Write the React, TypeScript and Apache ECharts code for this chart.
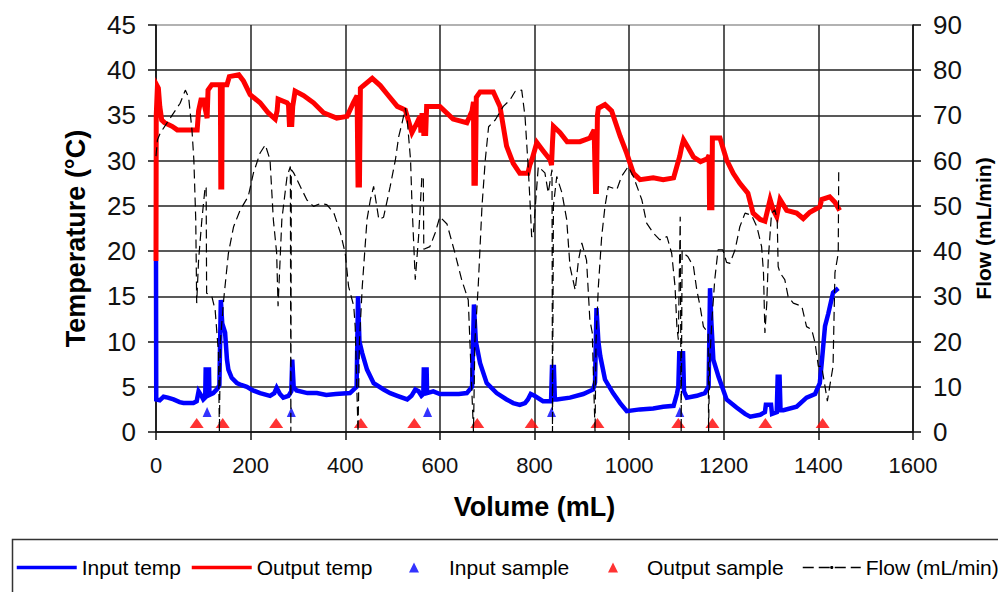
import React, { useEffect, useRef } from "react";
import * as echarts from "echarts";

const FONT = '"Liberation Sans", Arial, Helvetica, sans-serif';

const xTicks = [0, 200, 400, 600, 800, 1000, 1200, 1400, 1600];

// Input temp (°C) vs volume (mL)
const inputTemp: number[][] = [
  [0, 18.9], [0.5, 3.6], [8, 3.5], [16, 3.9], [25, 3.8], [37, 3.6], [50, 3.3], [58, 3.2], [79, 3.2], [86, 3.4],
  [90, 4.5], [96, 4.0], [100, 3.6], [104, 3.8], [105, 6.9], [112, 6.9], [113, 4.1], [121, 4.3], [130, 4.8], [134, 5.2],
  [137, 14.6], [140, 12], [146, 11.0], [150, 8], [153, 6.9], [160, 6.0], [171, 5.4], [180, 5.2], [192, 5.0], [205, 4.6],
  [220, 4.3], [241, 4.0], [250, 4.3], [255, 4.9], [262, 4.2], [269, 3.8], [280, 4.0], [286, 4.5], [288, 8.0], [291, 5.0],
  [297, 4.6], [320, 4.3], [340, 4.3], [360, 4.1], [380, 4.2], [410, 4.3], [424, 5.0], [427, 15.0], [430, 10], [436, 8.7],
  [446, 6.9], [460, 5.4], [481, 4.7], [495, 4.3], [510, 4.0], [531, 3.6], [540, 4.0], [548, 4.7], [555, 4.5], [561, 4.0],
  [565, 4.2], [566, 6.9], [572, 6.9], [573, 4.3], [586, 4.5], [600, 4.2], [622, 4.2], [640, 4.2], [657, 4.3], [668, 5.0],
  [672, 14.1], [676, 10], [685, 7.6], [699, 5.4], [720, 4.3], [741, 3.6], [755, 3.2], [769, 3.0], [780, 3.2], [786, 3.6],
  [792, 4.2], [800, 4.0], [818, 3.4], [835, 3.4], [837, 7.2], [841, 7.2], [843, 3.6], [847, 3.6], [875, 3.8], [903, 4.2],
  [924, 4.7], [928, 5.5], [931, 13.7], [935, 10], [939, 8.4], [949, 5.8], [966, 4.3], [981, 3.2], [995, 2.3], [1023, 2.5],
  [1051, 2.6], [1072, 2.8], [1094, 2.9], [1101, 4.2], [1104, 5], [1106, 8.7], [1114, 8.7], [1116, 4.5], [1122, 3.8], [1143, 4.0],
  [1160, 4.3], [1168, 5], [1171, 15.9], [1174, 12], [1178, 8.0], [1189, 6.1], [1206, 3.6], [1227, 2.7], [1245, 2.0], [1256, 1.7],
  [1277, 1.9], [1287, 2.2], [1289, 3.0], [1300, 3.0], [1302, 2.0], [1312, 2.2], [1314, 6.1], [1318, 6.1], [1320, 2.4], [1326, 2.4],
  [1354, 2.8], [1375, 3.8], [1393, 4.2], [1403, 5.4], [1407, 7.6], [1414, 11.7], [1421, 13.1], [1431, 15.4], [1442, 15.9],
];

// Output temp (°C) vs volume (mL)
const outputTemp: number[][] = [
  [0, 18.9], [0.5, 35], [3, 38.2], [5, 38], [8, 36], [12, 34.5], [18, 34.2], [34, 33.8], [45, 33.4], [87, 33.4],
  [90, 35.5], [95, 36.7], [100, 36.7], [105, 35.5], [108, 34.7], [110, 37.8], [118, 38.4], [136, 38.4], [137, 27.1], [139, 27.1],
  [140, 38.4], [150, 38.4], [155, 39.3], [175, 39.5], [185, 38.8], [199, 37.3], [220, 36.4], [237, 35.3], [252, 34.6], [256, 35.5],
  [258, 36.8], [277, 36.4], [280, 36.2], [282, 34.0], [287, 34.0], [289, 36.0], [294, 37.7], [312, 37.2], [333, 36.4], [354, 35.3],
  [382, 34.7], [404, 34.9], [417, 36.4], [425, 37.2], [427, 27.3], [430, 27.3], [432, 38.0], [436, 38.2], [457, 39.1], [474, 38.3],
  [488, 37.4], [510, 36.0], [527, 35.6], [541, 33.1], [550, 34.0], [558, 34.9], [560, 33.1], [562, 35.0], [565, 35.0], [566, 33.0],
  [570, 33.0], [572, 36.0], [579, 36.0], [600, 36.0], [628, 34.6], [657, 34.2], [668, 35.5], [671, 36.5], [672, 27.5], [675, 27.5],
  [677, 37.0], [685, 37.6], [713, 37.6], [727, 36.0], [741, 31.6], [755, 29.7], [769, 28.6], [786, 28.6], [790, 29.5], [795, 30.2],
  [805, 32.0], [818, 31.1], [833, 30.1], [836, 29.5], [838, 32], [840, 33.8], [854, 33.1], [869, 32.1], [896, 32.1], [917, 32.5],
  [926, 33.4], [929, 26.6], [931, 26.6], [933, 35.0], [935, 35.8], [949, 36.2], [963, 35.5], [981, 32.7], [995, 30.8], [1009, 28.6],
  [1023, 27.9], [1051, 28.1], [1072, 27.9], [1094, 28.1], [1101, 29.4], [1107, 30.5], [1111, 31.5], [1115, 32.3], [1124, 31.5], [1136, 30.4],
  [1151, 29.9], [1165, 30.2], [1169, 30.6], [1170, 24.8], [1175, 24.8], [1176, 32.5], [1192, 32.5], [1206, 30.1], [1220, 28.6], [1234, 27.5],
  [1251, 26.4], [1262, 24.2], [1277, 23.5], [1287, 23.3], [1298, 25.7], [1305, 24.5], [1312, 23.8], [1319, 25.7], [1333, 24.5], [1354, 24.2],
  [1368, 23.6], [1382, 24.3], [1403, 24.9], [1407, 25.7], [1424, 26.0], [1435, 25.4], [1445, 24.5],
];

// Flow (mL/min) vs volume (mL), right axis
const flow: number[][] = [
  [0, 61], [3, 64.6], [9, 66.1], [23, 68.3], [37, 70.5], [51, 72.7], [62, 75.6], [69, 74], [76, 66.8], [80, 60.2],
  [84, 47], [86, 28.5], [90, 38], [97, 47], [104, 54.3], [106, 54], [107, 30.7], [118, 30.0], [125, 27], [132, 17.5],
  [134, 0], [136, 20], [143, 29.2], [153, 39.5], [164, 45.4], [178, 49.1], [195, 52.1], [206, 57.3], [220, 61.7], [231, 63.5],
  [241, 60.2], [248, 47], [255, 39.6], [258, 27.8], [266, 47], [277, 56.5], [284, 58.7], [285, 0], [286, 58], [291, 57.3],
  [305, 54.3], [319, 51.3], [333, 49.9], [347, 50.5], [361, 50.3], [376, 48.4], [390, 44], [400, 39.5], [407, 32.2], [418, 27.8],
  [421, 23.3], [427, 0], [430, 20], [436, 32.2], [446, 47], [453, 51.3], [460, 54.3], [471, 47], [481, 47.5], [495, 54.3],
  [506, 60.2], [513, 65.3], [520, 68.3], [527, 71.6], [531, 69], [538, 60.2], [541, 50.6], [548, 33.7], [555, 43.2], [562, 56.5],
  [565, 56.5], [566, 40.4], [579, 41.0], [590, 44], [600, 47.6], [615, 46], [632, 39.5], [646, 33.7], [660, 29.2], [671, 0],
  [674, 20], [681, 32.2], [689, 49.9], [696, 60.2], [703, 67.5], [717, 69], [734, 72], [748, 73.4], [759, 75.3], [773, 75.6],
  [780, 69.7], [787, 58], [791, 49.9], [794, 43.2], [797, 43.2], [808, 58.7], [822, 57.3], [829, 52.9], [837, 58], [838, 0],
  [840, 50], [847, 56.5], [858, 52.9], [868, 47], [875, 36.6], [886, 31.4], [893, 38], [900, 41.8], [910, 38], [917, 24.8],
  [922, 22], [928, 0], [930, 20], [935, 32.2], [942, 43.2], [949, 49.9], [956, 54.3], [974, 53.6], [984, 56.5], [998, 58.7],
  [1009, 56.5], [1027, 51.3], [1037, 46.2], [1051, 44], [1065, 42.5], [1080, 43.2], [1090, 39.5], [1097, 32.2], [1101, 23.3], [1104, 20.4],
  [1108, 47.6], [1110, 0], [1112, 40], [1115, 39.5], [1124, 38.8], [1136, 36.6], [1143, 31.4], [1150, 27.8], [1157, 23.3], [1167, 22],
  [1168, 0], [1170, 15], [1175, 24.8], [1181, 33.7], [1188, 40.3], [1198, 40.3], [1206, 37.5], [1213, 37.3], [1224, 40.3], [1234, 45.4],
  [1245, 48.4], [1259, 47.9], [1270, 45.4], [1280, 41], [1284, 35.2], [1287, 21.9], [1291, 28.5], [1294, 38], [1301, 48.4], [1308, 49.1],
  [1313, 47], [1315, 36.6], [1319, 35.2], [1329, 33.7], [1336, 30], [1347, 28.5], [1365, 27.8], [1375, 23.3], [1386, 22.6], [1393, 19.7],
  [1400, 14.5], [1407, 14.5], [1414, 10.1], [1419, 6.8], [1424, 10.1], [1431, 14.5], [1435, 35.2], [1442, 39.5], [1443, 58],
];

// Sample points: [volume (mL), marker level (°C)]
const inputSamples: number[][] = [
  [108, 2.2], [286, 2.2], [574, 2.2], [836, 2.2], [1107, 2.2],
];
const outputSamples: number[][] = [
  [86, 1.0], [141, 1.0], [254, 1.0], [433, 1.0], [546, 1.0], [679, 1.0],
  [794, 1.0], [933, 1.0], [1104, 1.0], [1176, 1.0], [1288, 1.0], [1409, 1.0],
];

const legendText = { fontSize: 21, color: "#000", fontFamily: FONT };
const legendCommon = {
  orient: "horizontal" as const,
  padding: 0,
  itemGap: 0,
  selectedMode: false,
  top: 557,
};

export default function App() {
  const ref = useRef<HTMLDivElement>(null);

  useEffect(() => {
    if (!ref.current) return;
    const chart = echarts.init(ref.current, undefined, { renderer: "svg" });
    const axisLineStyle = { color: "#111", width: 1.5 };
    const splitColors = ["#222", "#222", "#222", "#222", "#222", "#222", "#222", "#222", "#222", "#999"];
    chart.setOption({
      animation: false,
      backgroundColor: "#fff",
      grid: {
        left: 156,
        right: 85,
        top: 25,
        bottom: 160,
        containLabel: false,
        outerBoundsMode: "none",
      },
      xAxis: {
        type: "value",
        min: 0,
        max: 1600,
        interval: 200,
        name: "Volume (mL)",
        nameLocation: "middle",
        nameGap: 61,
        nameTextStyle: { fontSize: 27, fontWeight: "bold", color: "#000", fontFamily: FONT },
        axisLine: { show: true, lineStyle: axisLineStyle },
        axisTick: { show: true, length: 8, lineStyle: axisLineStyle },
        axisLabel: {
          fontSize: 22,
          color: "#111",
          fontFamily: FONT,
          margin: 22,
          formatter: (v: number) => (xTicks.includes(v) ? String(v) : ""),
        },
        splitLine: { show: true, lineStyle: { color: "#222", width: 1.5 } },
      },
      yAxis: [
        {
          type: "value",
          min: 0,
          max: 45,
          interval: 5,
          position: "left",
          name: "Temperature (°C)",
          nameLocation: "middle",
          nameGap: 67,
          nameTextStyle: {
            fontSize: 27,
            fontWeight: "bold",
            color: "#000",
            fontFamily: FONT,
            padding: [0, 20, 0, 0],
          },
          axisLine: { show: true, lineStyle: axisLineStyle },
          axisTick: { show: true, length: 8, lineStyle: axisLineStyle },
          axisLabel: { fontSize: 26, color: "#111", fontFamily: FONT, margin: 20 },
          splitLine: { show: true, lineStyle: { color: splitColors, width: 1.5 } },
        },
        {
          type: "value",
          min: 0,
          max: 90,
          interval: 10,
          position: "right",
          name: "Flow (mL/min)",
          nameLocation: "middle",
          nameGap: 60,
          nameTextStyle: { fontSize: 21, fontWeight: "bold", color: "#000", fontFamily: FONT },
          axisLine: { show: true, lineStyle: axisLineStyle },
          axisTick: { show: true, length: 8, lineStyle: axisLineStyle },
          axisLabel: { fontSize: 26, color: "#111", fontFamily: FONT, margin: 20 },
          splitLine: { show: false },
        },
      ],
      legend: [
        {
          ...legendCommon, data: ["Input temp"], left: 15, itemWidth: 60, itemHeight: 4,
          lineStyle: { width: 3.5 }, textStyle: legendText,
        },
        {
          ...legendCommon, data: ["Output temp"], left: 190, itemWidth: 60, itemHeight: 4,
          lineStyle: { width: 3.5 }, textStyle: legendText,
        },
        {
          ...legendCommon, data: ["Input sample"], left: 409, itemWidth: 10, itemHeight: 10,
          textStyle: { ...legendText, padding: [0, 0, 0, 25] },
        },
        {
          ...legendCommon, data: ["Output sample"], left: 608, itemWidth: 10, itemHeight: 10,
          textStyle: { ...legendText, padding: [0, 0, 0, 24] },
        },
        {
          ...legendCommon, data: ["Flow (mL/min)"], left: 802, itemWidth: 58, itemHeight: 4,
          lineStyle: { width: 1.5, type: [11, 5] }, textStyle: legendText,
        },
      ],
      graphic: [
        {
          type: "rect",
          left: 10,
          top: 537,
          shape: { x: 0, y: 0, width: 1000, height: 100 },
          style: { fill: "none", stroke: "#333", lineWidth: 1.5 },
          silent: true,
        },
      ],
      series: [
        {
          name: "Input temp",
          type: "line",
          yAxisIndex: 0,
          data: inputTemp,
          symbol: "none",
          showSymbol: false,
          lineStyle: { color: "#0000ff", width: 4.5, join: "miter" },
          itemStyle: { color: "#0000ff" },
          z: 2,
        },
        {
          name: "Output temp",
          type: "line",
          yAxisIndex: 0,
          data: outputTemp,
          symbol: "none",
          showSymbol: false,
          lineStyle: { color: "#ff0000", width: 5, join: "miter" },
          itemStyle: { color: "#ff0000" },
          z: 3,
        },
        {
          name: "Input sample",
          type: "scatter",
          yAxisIndex: 0,
          data: inputSamples,
          symbol: "triangle",
          symbolSize: [9, 10],
          itemStyle: { color: "#0000ff" },
          z: 4,
        },
        {
          name: "Output sample",
          type: "scatter",
          yAxisIndex: 0,
          data: outputSamples,
          symbol: "triangle",
          symbolSize: [14, 10],
          itemStyle: { color: "#ff0000" },
          z: 4,
        },
        {
          name: "Flow (mL/min)",
          type: "line",
          yAxisIndex: 1,
          data: flow,
          symbol: "none",
          showSymbol: false,
          lineStyle: { color: "#000", width: 1.2, type: [9, 5] },
          itemStyle: { color: "#000" },
          z: 5,
        },
      ],
    });
    return () => chart.dispose();
  }, []);

  return (
    <div
      ref={ref}
      style={{ position: "fixed", left: 0, top: 0, width: 998, height: 592, background: "#fff" }}
    />
  );
}
